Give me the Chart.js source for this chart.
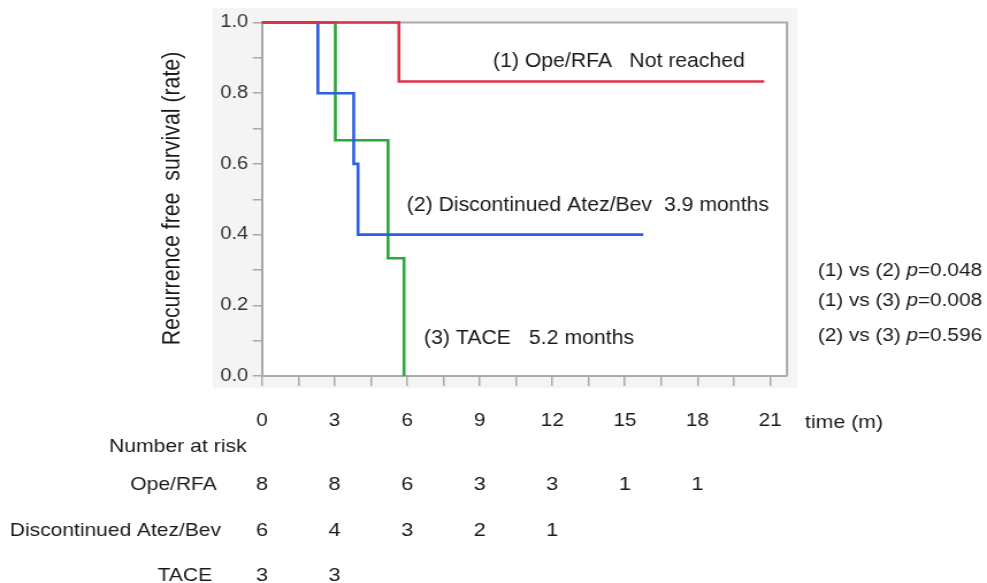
<!DOCTYPE html>
<html><head><meta charset="utf-8">
<script src="https://cdn.jsdelivr.net/npm/chart.js@4.4.1/dist/chart.umd.min.js"></script>
<style>html,body{margin:0;padding:0;background:#fff;overflow:hidden}canvas{display:block}</style>
</head><body>
<canvas id="c" width="858" height="583" style="width:987px;height:583px"></canvas>
<script>
// ---- data ----
const timeTicks = [0, 3, 6, 9, 12, 15, 18, 21];
const opeTimes = [0, 5.66, 20.76];
const opeSurv = [1.0, 0.833, 0.833];
const atezTimes = [0, 2.31, 3.79, 3.97, 15.76];
const atezSurv = [1.0, 0.8, 0.6, 0.4, 0.4];
const taceTimes = [0, 3.03, 5.21, 5.87];
const taceSurv = [1.0, 0.667, 0.333, 0.0];
const riskTimes = [0, 3, 6, 9, 12, 15, 18];
const riskGroups = ['Ope/RFA', 'Discontinued Atez/Bev', 'TACE'];
const riskOpe = [8, 8, 6, 3, 3, 1, 1];
const riskAtez = [6, 4, 3, 2, 1];
const riskTace = [3, 3];
const medianLabels = [['(1) Ope/RFA', 'Not reached'], ['(2) Discontinued Atez/Bev', '3.9 months'], ['(3) TACE', '5.2 months']];
const pLabels = ['(1) vs (2) ', '(1) vs (3) ', '(2) vs (3) '];
const pValues = ['0.048', '0.008', '0.596'];

// ---- styling ----
const S = 987 / 858;            // horizontal stretch of the picture
const FAM = '"Liberation Sans", Arial, sans-serif';
const RED = 'rgb(222,50,70)', BLUE = 'rgb(45,95,228)', GREEN = 'rgb(42,168,56)';
const FRAME = '#a9a9a9', TXT = '#1a1a1a';

function pts(t, s) { return t.map((v, i) => ({ x: v, y: s[i] })); }

function txt(ctx, s, x, y, size, align, sx, style) {
  ctx.save();
  ctx.translate(x, y);
  ctx.scale(sx, 1);
  ctx.font = (style || '') + ' ' + size + 'px ' + FAM;
  ctx.textAlign = align || 'left';
  ctx.textBaseline = 'alphabetic';
  ctx.fillStyle = TXT;
  ctx.fillText(s, 0, 0);
  const w = ctx.measureText(s).width * sx;
  ctx.restore();
  return w;
}

const deco = {
  id: 'deco',
  beforeDraw(chart) {
    const { ctx, chartArea: a } = chart;
    ctx.save();
    ctx.fillStyle = '#fff';
    ctx.fillRect(0, 0, chart.width, chart.height);
    ctx.fillStyle = '#f4f4f4';
    ctx.fillRect(213 / S, 8, (797 - 213) / S, 380);
    ctx.fillStyle = '#fff';
    ctx.fillRect(a.left, a.top, a.right - a.left, a.bottom - a.top);
    ctx.restore();
  },
  beforeDatasetsDraw(chart) {
    const { ctx, chartArea: a } = chart;
    ctx.save();
    ctx.strokeStyle = FRAME;
    ctx.lineWidth = 2;
    ctx.beginPath();
    ctx.moveTo(a.left, a.top);
    ctx.lineTo(a.right, a.top);
    ctx.lineTo(a.right, a.bottom);
    ctx.stroke();
    ctx.restore();
  },
  afterDraw(chart) {
    const { ctx } = chart;
    const xs = chart.scales.x;
    // y title
    ctx.save();
    ctx.translate(179 / S, 198.5);
    ctx.rotate(-Math.PI / 2);
    ctx.font = '21.3px ' + FAM;
    ctx.textAlign = 'center';
    ctx.textBaseline = 'alphabetic';
    ctx.fillStyle = TXT;
    ctx.fillText('Recurrence free  survival (rate)', 0, 0);
    ctx.restore();
    // median annotations
    const ann = [[493, 629.3, 66.7], [406.7, 664, 210.7], [424, 529, 344.3]];
    medianLabels.forEach((m, i) => {
      txt(ctx, m[0], ann[i][0] / S, ann[i][2], 20.5, 'left', 0.9);
      txt(ctx, m[1], ann[i][1] / S, ann[i][2], 20.5, 'left', 0.9);
    });
    // p values
    const pBase = [276.4, 306.4, 341.4];
    pLabels.forEach((l, i) => {
      let x = 818 / S;
      x += txt(ctx, l, x, pBase[i], 18, 'left', 1);
      x += txt(ctx, 'p', x, pBase[i], 18, 'left', 1, 'italic');
      txt(ctx, '=' + pValues[i], x, pBase[i], 18, 'left', 1);
    });
    // axis unit
    txt(ctx, 'time (m)', 805 / S, 421 + 6.5, 18.5, 'left', 1);
    // number at risk table
    txt(ctx, 'Number at risk', 246.7 / S, 445.5 + 6.8, 19, 'right', 0.97);
    const rowY = [483, 528.7, 573.7];
    const rowLabelRight = [216.7, 221, 212];
    const rows = [riskOpe, riskAtez, riskTace];
    rows.forEach((r, k) => {
      txt(ctx, riskGroups[k], rowLabelRight[k] / S, rowY[k] + 6.8, 19, 'right', 0.96);
      r.forEach((n, i) => {
        txt(ctx, String(n), xs.getPixelForValue(riskTimes[i]), rowY[k] + 6.8, 19, 'center', 1);
      });
    });
  }
};

const base = { pointRadius: 0, borderWidth: 2.6, stepped: true, fill: false, clip: false, tension: 0 };

new Chart(document.getElementById('c').getContext('2d'), {
  type: 'line',
  data: {
    datasets: [
      Object.assign({ label: riskGroups[0], data: pts(opeTimes, opeSurv), borderColor: RED }, base),
      Object.assign({ label: riskGroups[1], data: pts(atezTimes, atezSurv), borderColor: BLUE }, base),
      Object.assign({ label: riskGroups[2], data: pts(taceTimes, taceSurv), borderColor: GREEN }, base)
    ]
  },
  options: {
    responsive: false,
    animation: false,
    events: [],
    layout: { padding: { top: 22.5, right: 858 - 787 / S, left: 0, bottom: 0 } },
    plugins: { legend: { display: false }, tooltip: { enabled: false } },
    scales: {
      x: {
        type: 'linear', min: 0, max: 21.7,
        afterFit: s => { s.height = 583 - 376; },
        border: { display: true, color: FRAME, width: 2 },
        grid: { drawOnChartArea: false, drawTicks: true, tickLength: 10, color: FRAME, lineWidth: 1.5 },
        ticks: {
          stepSize: 1.5, includeBounds: false, autoSkip: false, maxRotation: 0, minRotation: 0,
          padding: 24, color: TXT, font: { family: FAM, size: 18 },
          callback: v => timeTicks.some(t => Math.abs(t - v) < 1e-6) ? String(Math.round(v)) : ''
        }
      },
      y: {
        min: 0, max: 1,
        afterFit: s => { s.width = 262 / S; },
        border: { display: true, color: FRAME, width: 2 },
        grid: { drawOnChartArea: false, drawTicks: true, tickLength: 8, color: FRAME, lineWidth: 1.5 },
        ticks: {
          stepSize: 0.1, padding: 4, color: '#333', font: { family: FAM, size: 17.5 },
          callback: v => (Math.round(v * 10) % 2 === 0) ? v.toFixed(1) : ''
        }
      }
    }
  },
  plugins: [deco]
});
</script>
</body></html>
